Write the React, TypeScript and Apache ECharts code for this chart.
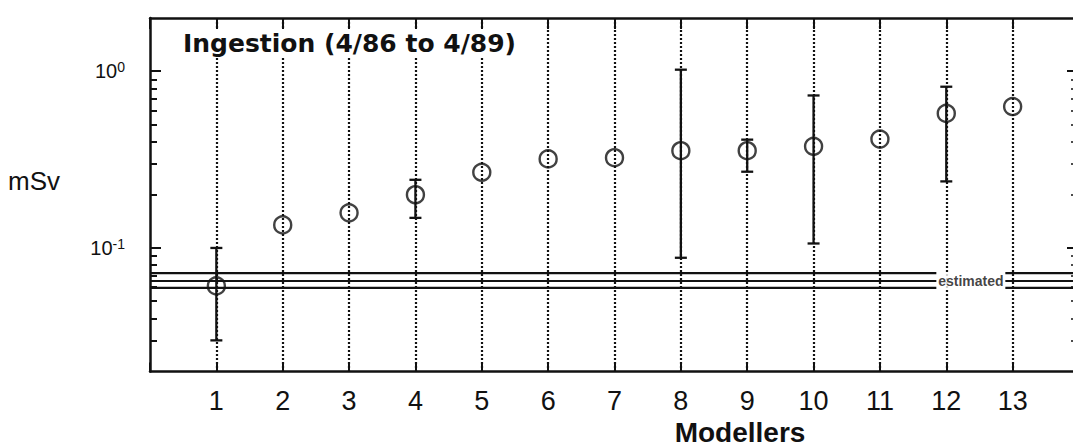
import React, { useEffect, useRef } from 'react';
import * as echarts from 'echarts';

// ---- data ----
const modellers = [1, 2, 3, 4, 5, 6, 7, 8, 9, 10, 11, 12, 13];
const doses = [0.061, 0.135, 0.158, 0.2, 0.268, 0.319, 0.324, 0.355, 0.355, 0.376, 0.413, 0.577, 0.631];
const errLow: (number | null)[] = [0.030, null, null, 0.148, null, null, null, 0.088, 0.27, 0.106, null, 0.238, null];
const errHigh: (number | null)[] = [0.1, null, null, 0.243, null, null, null, 1.02, 0.41, 0.729, null, 0.817, null];
const estimatedLevels = [0.072, 0.065, 0.0595];
const estimatedGap = [11.85, 12.89];
const estimatedLabelAt = 12.37;
const majorTicks = [0.1, 1];
const minorTicks = [0.03, 0.04, 0.05, 0.06, 0.07, 0.08, 0.09, 0.2, 0.3, 0.4, 0.5, 0.6, 0.7, 0.8, 0.9];
const yRange = [0.02, 2];
const xRange = [0, 14];

const INK = '#111';

export default function App() {
  const ref = useRef<HTMLDivElement>(null);
  useEffect(() => {
    if (!ref.current) return;
    const chart = echarts.init(ref.current, null, { renderer: 'svg' });

    const logAxisBase = {
      type: 'log',
      logBase: 10,
      min: yRange[0],
      max: yRange[1],
      splitLine: { show: false },
      minorTick: { show: false },
    };

    const errData = modellers
      .map((m, i) => (errLow[i] != null && errHigh[i] != null ? [m, errLow[i], errHigh[i]] : null))
      .filter((d) => d !== null);

    const bandSeries: any[] = [];
    estimatedLevels.forEach((v) => {
      bandSeries.push({
        type: 'line',
        data: [[xRange[0], v], [estimatedGap[0], v]],
        symbol: 'none',
        lineStyle: { color: INK, width: 2.2 },
        silent: true,
        z: 1,
      });
      bandSeries.push({
        type: 'line',
        data: [[estimatedGap[1], v], [xRange[1], v]],
        symbol: 'none',
        lineStyle: { color: INK, width: 2.2 },
        silent: true,
        z: 1,
      });
    });

    chart.setOption({
      animation: false,
      backgroundColor: '#fff',
      grid: { left: 150, right: -6, top: 18, bottom: 75.5, containLabel: false, outerBoundsMode: 'none' },
      title: {
        text: 'Ingestion (4/86 to 4/89)',
        left: 180,
        top: 29,
        padding: [2, 3],
        backgroundColor: '#fff',
        textStyle: { fontFamily: 'DejaVu Sans', fontWeight: 'bold', fontSize: 25, color: INK },
      },
      xAxis: [
        {
          type: 'value',
          position: 'bottom',
          min: xRange[0],
          max: xRange[1],
          interval: 1,
          axisLine: { lineStyle: { color: INK, width: 2.5 } },
          axisTick: { inside: true, length: 9, lineStyle: { color: INK, width: 2 } },
          axisLabel: {
            formatter: (v: number) => (v >= 1 && v <= 13 ? String(v) : ''),
            fontSize: 27,
            fontFamily: 'Liberation Sans',
            color: INK,
            margin: 16,
          },
          splitLine: {
            show: true,
            showMinLine: false,
            showMaxLine: false,
            lineStyle: { type: [2, 2], width: 2.2, color: '#111' },
          },
        },
        {
          type: 'value',
          position: 'top',
          min: xRange[0],
          max: xRange[1],
          interval: 1,
          axisLine: { lineStyle: { color: INK, width: 2.5 } },
          axisTick: { inside: true, length: 11, lineStyle: { color: INK, width: 2 } },
          axisLabel: { show: false },
          splitLine: { show: false },
        },
      ],
      yAxis: [
        {
          ...logAxisBase,
          position: 'left',
          axisLine: { show: true, lineStyle: { color: INK, width: 2.5 } },
          axisTick: { show: true, inside: true, length: 11, customValues: majorTicks, lineStyle: { color: INK, width: 2 } },
          axisLabel: {
            customValues: majorTicks,
            margin: 25,
            formatter: (v: number) => {
              if (Math.abs(v - 1) < 1e-9) return '{b|10}{s|0}';
              if (Math.abs(v - 0.1) < 1e-9) return '{b|10}{s|-1}';
              return '';
            },
            rich: {
              b: { fontSize: 20, fontFamily: 'Liberation Sans', color: INK, lineHeight: 22 },
              s: { fontSize: 14, fontFamily: 'Liberation Sans', color: INK, verticalAlign: 'top', lineHeight: 13 },
            },
          },
        },
        {
          ...logAxisBase,
          position: 'left',
          axisLine: { show: false },
          axisTick: { show: true, inside: true, length: 7, customValues: minorTicks, lineStyle: { color: INK, width: 2 } },
          axisLabel: { show: false },
        },
        {
          ...logAxisBase,
          position: 'right',
          axisLine: { show: true, lineStyle: { color: INK, width: 2.5 } },
          axisTick: { show: true, inside: true, length: 12, customValues: majorTicks, lineStyle: { color: INK, width: 2 } },
          axisLabel: { show: false },
        },
        {
          ...logAxisBase,
          position: 'right',
          axisLine: { show: false },
          axisTick: { show: true, inside: true, length: 8, customValues: minorTicks, lineStyle: { color: INK, width: 1.5 } },
          axisLabel: { show: false },
        },
      ],
      graphic: [
        {
          type: 'text',
          x: 8,
          y: 181,
          style: { text: 'mSv', font: '26px "Liberation Sans"', fill: INK, verticalAlign: 'middle' },
        },
        {
          type: 'text',
          x: 740,
          y: 432,
          style: { text: 'Modellers', font: 'bold 28px "Liberation Sans"', fill: INK, align: 'center', verticalAlign: 'middle' },
        },
      ],
      series: [
        ...bandSeries,
        {
          type: 'scatter',
          data: [[estimatedLabelAt, estimatedLevels[1]]],
          symbolSize: 1,
          itemStyle: { color: 'rgba(0,0,0,0)' },
          silent: true,
          z: 4,
          label: {
            show: true,
            position: 'inside',
            formatter: 'estimated',
            fontSize: 14,
            fontWeight: 'bold',
            fontFamily: 'Liberation Sans',
            color: INK,
            backgroundColor: '#fff',
            padding: [0, 1],
          },
        },
        {
          type: 'custom',
          data: errData,
          z: 3,
          silent: true,
          renderItem: (params: any, api: any) => {
            const lo = api.coord([api.value(0), api.value(1)]);
            const hi = api.coord([api.value(0), api.value(2)]);
            const hw = 6;
            const st = { stroke: INK, lineWidth: 2.3 };
            return {
              type: 'group',
              children: [
                { type: 'line', shape: { x1: lo[0], y1: lo[1], x2: hi[0], y2: hi[1] }, style: st },
                { type: 'line', shape: { x1: lo[0] - hw, y1: lo[1], x2: lo[0] + hw, y2: lo[1] }, style: st },
                { type: 'line', shape: { x1: hi[0] - hw, y1: hi[1], x2: hi[0] + hw, y2: hi[1] }, style: st },
              ],
            };
          },
        },
        {
          type: 'scatter',
          data: modellers.map((m, i) => [m, doses[i]]),
          symbol: 'circle',
          symbolSize: 17,
          z: 5,
          itemStyle: { color: 'rgba(0,0,0,0)', borderColor: INK, borderWidth: 2.4 },
        },
      ],
    });

    return () => chart.dispose();
  }, []);

  return <div ref={ref} style={{ position: 'absolute', left: 0, top: 0, width: 1073, height: 447 }} />;
}
